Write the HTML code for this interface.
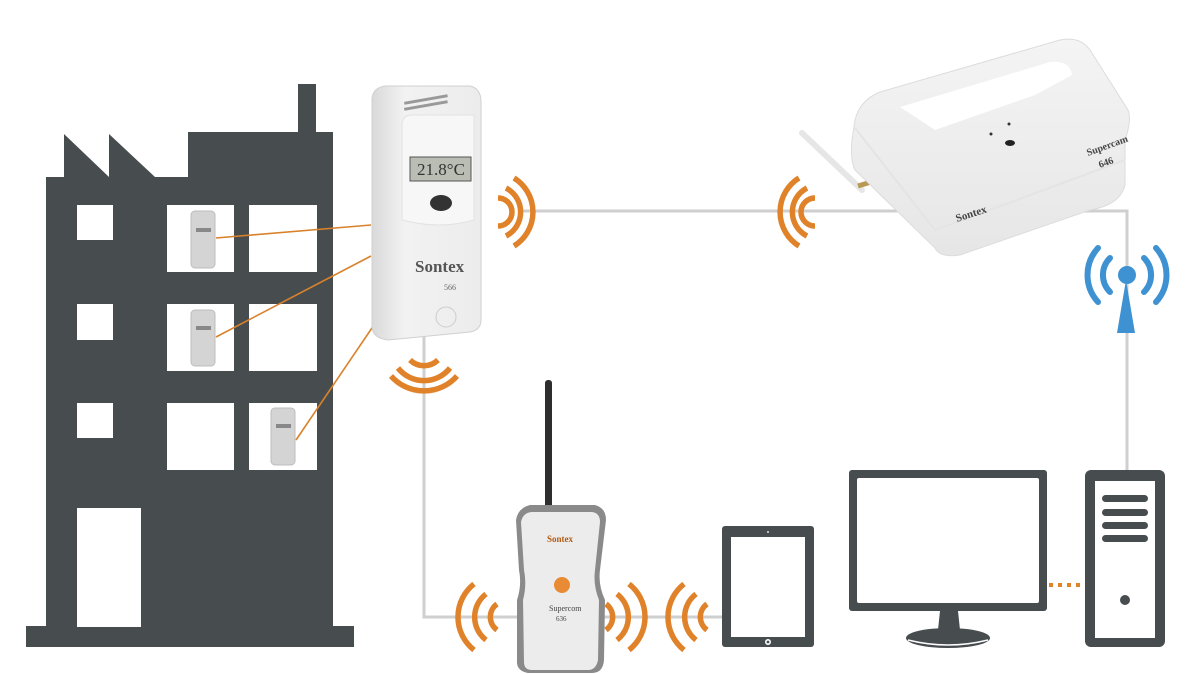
<!DOCTYPE html>
<html><head><meta charset="utf-8"><style>
html,body{margin:0;padding:0;background:#fff;width:1200px;height:674px;overflow:hidden}
svg{display:block}
text{font-family:"Liberation Serif",serif}
</style></head><body>
<svg width="1200" height="674" viewBox="0 0 1200 674" xmlns="http://www.w3.org/2000/svg">
<defs>
<linearGradient id="mg" x1="0" x2="1" y1="0" y2="0"><stop offset="0" stop-color="#d9d9d9"/><stop offset="0.3" stop-color="#f2f2f2"/><stop offset="1" stop-color="#ececec"/></linearGradient>
<linearGradient id="gw" x1="0" x2="0" y1="0" y2="1"><stop offset="0" stop-color="#f4f4f4"/><stop offset="1" stop-color="#e6e6e6"/></linearGradient>
</defs>
<g stroke="#cfcfcf" stroke-width="3" fill="none">
<polyline points="424,335 424,617 722,617"/>
<polyline points="520,211 1127,211 1127,470"/>
</g>
<g fill="#474c4f">
<rect x="26" y="626" width="328" height="21"/>
<polygon points="46,177 64,177 64,134 109,177 109,134 155,177 188,177 188,132 298,132 298,84 316,84 316,132 333,132 333,630 46,630"/>
</g>
<g fill="#fff">
<rect x="77" y="205" width="36" height="35"/><rect x="77" y="304" width="36" height="36"/><rect x="77" y="403" width="36" height="35"/>
<rect x="167" y="205" width="67" height="67"/><rect x="249" y="205" width="68" height="67"/>
<rect x="167" y="304" width="67" height="67"/><rect x="249" y="304" width="68" height="67"/>
<rect x="167" y="403" width="67" height="67"/><rect x="249" y="403" width="68" height="67"/>
<rect x="77" y="508" width="64" height="119"/>
</g>
<g fill="#d4d4d4" stroke="#bdbdbd" stroke-width="1">
<rect x="191" y="211" width="24" height="57" rx="4"/>
<rect x="191" y="310" width="24" height="56" rx="4"/>
<rect x="271" y="408" width="24" height="57" rx="4"/>
</g>
<g fill="#888"><rect x="196" y="228" width="15" height="4"/><rect x="196" y="326" width="15" height="4"/><rect x="276" y="424" width="15" height="4"/></g>
<g stroke="#d9822b" stroke-width="1.6">
<line x1="216" y1="238" x2="371" y2="225"/>
<line x1="216" y1="337" x2="371" y2="256"/>
<line x1="296" y1="440" x2="376" y2="322"/>
</g>
<path d="M372,100 Q372,88 385,86 L470,86 Q480,88 481,100 L481,320 Q481,330 470,332 L388,340 Q372,338 372,326 Z" fill="url(#mg)" stroke="#d0d0d0"/>
<path d="M402,125 Q402,115 412,115 L474,115 L474,220 Q440,230 402,220 Z" fill="#f7f7f7" stroke="#e2e2e2"/>
<rect x="410" y="157" width="61" height="24" fill="#b9bdb3" stroke="#555" stroke-width="1"/>
<text x="441" y="175" font-family="Liberation Mono,monospace" font-size="17" fill="#333" text-anchor="middle">21.8°C</text>
<ellipse cx="441" cy="203" rx="11" ry="8" fill="#333"/>
<text x="415" y="272" font-size="17" font-weight="bold" fill="#555">Sontex</text>
<text x="444" y="290" font-size="8" fill="#666">566</text>
<circle cx="446" cy="317" r="10" fill="none" stroke="#ccc"/>
<g fill="#999"><rect x="404" y="98" width="44" height="3" transform="rotate(-10 426 100)"/><rect x="404" y="104" width="44" height="3" transform="rotate(-10 426 106)"/></g>
<g>
<line x1="802" y1="133" x2="862" y2="190" stroke="#e6e6e6" stroke-width="6" stroke-linecap="round"/>
<line x1="858" y1="186" x2="884" y2="178" stroke="#b99a55" stroke-width="5"/>
<path d="M855,120 Q860,100 880,92 L1060,40 Q1080,36 1090,50 L1128,110 Q1132,120 1125,140 L1125,185 Q1120,205 1090,210 L960,255 Q940,258 935,248 L855,170 Q850,160 852,140 Z" fill="url(#gw)" stroke="#dcdcdc"/>
<path d="M900,107 L1050,62 Q1070,60 1072,75 L1035,95 L935,130 Z" fill="#fff"/>
<path d="M855,128 L935,230 L1125,160" fill="none" stroke="#e4e4e4" stroke-width="2"/>
<ellipse cx="1010" cy="143" rx="5" ry="3" fill="#222"/>
<circle cx="991" cy="134" r="1.5" fill="#333"/><circle cx="1009" cy="124" r="1.5" fill="#333"/>
<text x="1088" y="156" font-size="10" font-weight="bold" fill="#444" transform="rotate(-20 1088 156)">Supercam</text>
<text x="1100" y="168" font-size="10" font-weight="bold" fill="#444" transform="rotate(-20 1100 168)">646</text>
<text x="957" y="222" font-size="11" font-weight="bold" fill="#444" transform="rotate(-18 957 222)">Sontex</text>
</g>
<rect x="545" y="380" width="7" height="130" rx="3" fill="#2e2e2e"/>
<path d="M516,520 Q518,508 530,505 L595,505 Q606,508 606,520 L600,570 Q598,585 605,600 L604,660 Q603,673 592,673 L528,673 Q516,671 517,660 L517,600 Q522,585 519,570 Z" fill="#8a8a8a"/>
<path d="M521,522 Q523,512 533,512 L592,512 Q600,513 600,522 L595,570 Q593,585 599,600 L598,660 Q596,670 588,670 L532,670 Q524,670 524,662 L523,600 Q527,585 524,570 Z" fill="#ececec"/>
<text x="547" y="542" font-size="9" font-weight="bold" fill="#b35a12">Sontex</text>
<circle cx="562" cy="585" r="8" fill="#e98b34"/>
<text x="549" y="611" font-size="8" fill="#444">Supercom</text>
<text x="556" y="621" font-size="7" fill="#444">636</text>
<g fill="none" stroke="#e0822a" stroke-width="5.5" stroke-linecap="butt">
<path d="M498,198 A14,14 0 0 1 498,226"/><path d="M506,188 A27,27 0 0 1 506,236"/><path d="M514,178 A40,40 0 0 1 514,246"/>
<path d="M815,198 A14,14 0 0 0 815,226"/><path d="M807,188 A27,27 0 0 0 807,236"/><path d="M799,178 A40,40 0 0 0 799,246"/>
<path d="M410,360 A20,20 0 0 0 438,360"/><path d="M398,368 A33,33 0 0 0 450,368"/><path d="M391,376 A44,44 0 0 0 457,376"/>
<path d="M497,604 A16,16 0 0 0 497,630"/><path d="M486,594 A29,29 0 0 0 486,640"/><path d="M474,584 A42,42 0 0 0 474,650"/>
<path d="M606,604 A16,16 0 0 1 606,630"/><path d="M617,594 A29,29 0 0 1 617,640"/><path d="M629,584 A42,42 0 0 1 629,650"/>
<path d="M707,604 A16,16 0 0 0 707,630"/><path d="M696,594 A29,29 0 0 0 696,640"/><path d="M684,584 A42,42 0 0 0 684,650"/>
</g>
<g fill="#3f92d2">
<polygon points="1126,280 1135,333 1117,333"/>
<circle cx="1127" cy="275" r="9"/>
</g>
<g fill="none" stroke="#3f92d2" stroke-width="6" stroke-linecap="round">
<path d="M1110,258 A24,24 0 0 0 1110,292"/><path d="M1144,258 A24,24 0 0 1 1144,292"/>
<path d="M1098,248 A40,40 0 0 0 1098,302"/><path d="M1156,248 A40,40 0 0 1 1156,302"/>
</g>
<rect x="722" y="526" width="92" height="121" rx="3" fill="#474c4f"/>
<rect x="731" y="537" width="74" height="100" fill="#fff"/>
<circle cx="768" cy="642" r="3" fill="#fff"/><circle cx="768" cy="642" r="1.4" fill="#474c4f"/>
<circle cx="768" cy="532" r="1" fill="#ddd"/>
<rect x="849" y="470" width="198" height="141" rx="3" fill="#474c4f"/>
<rect x="857" y="478" width="182" height="125" rx="2" fill="#fff"/>
<polygon points="940,611 958,611 960,630 938,630" fill="#474c4f"/>
<ellipse cx="948" cy="638" rx="42" ry="10" fill="#474c4f"/>
<path d="M908,640 Q948,650 988,640" stroke="#fff" stroke-width="1.5" fill="none"/>
<line x1="1049" y1="585" x2="1084" y2="585" stroke="#e0822a" stroke-width="4" stroke-dasharray="4,5"/>
<rect x="1085" y="470" width="80" height="177" rx="6" fill="#474c4f"/>
<rect x="1095" y="481" width="60" height="157" fill="#fff"/>
<g fill="#474c4f">
<rect x="1102" y="495" width="46" height="7" rx="3.5"/><rect x="1102" y="509" width="46" height="7" rx="3.5"/>
<rect x="1102" y="522" width="46" height="7" rx="3.5"/><rect x="1102" y="535" width="46" height="7" rx="3.5"/>
<circle cx="1125" cy="600" r="5"/>
</g>
</svg>
</body></html>
